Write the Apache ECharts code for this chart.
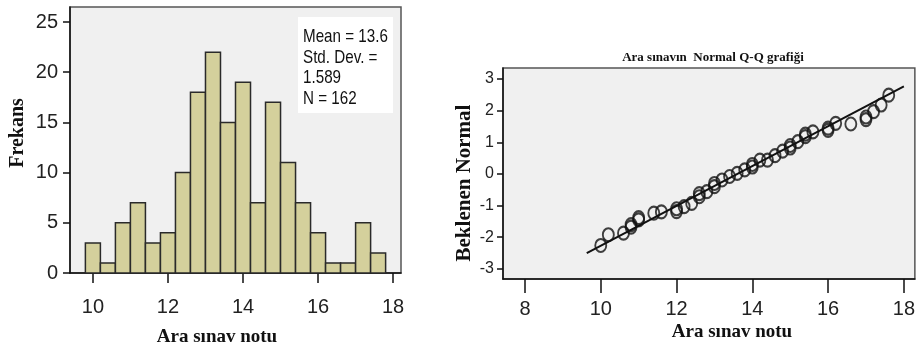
<!DOCTYPE html>
<html><head><meta charset="utf-8">
<script src="https://cdn.jsdelivr.net/npm/echarts@6/dist/echarts.min.js"></script>
<style>html,body{margin:0;padding:0;background:#fff}#c{width:918px;height:349px}</style>
</head><body><div id="c"></div>
<script>
// Histogram data
const binCenters = [10,10.4,10.8,11.2,11.6,12,12.4,12.8,13.2,13.6,14,14.4,14.8,15.2,15.6,16,16.4,16.8,17.2,17.6];
const binCounts  = [3,1,5,7,3,4,10,18,22,15,19,7,17,11,7,4,1,1,5,2];
const binWidth = 0.4;
const histXTicks = [10,12,14,16,18];
const histYTicks = [0,5,10,15,20,25];
const statsLines = ['Mean = 13.6','Std. Dev. =','1.589','N = 162'];

// Q-Q data
const qqX = [10.0,10.2,10.6,10.8,10.8,11.0,11.0,11.4,11.6,12.0,12.0,12.2,12.4,12.6,12.6,12.8,13.0,13.0,13.2,13.4,13.6,13.8,14.0,14.0,14.2,14.4,14.6,14.8,15.0,15.0,15.2,15.4,15.4,15.6,16.0,16.0,16.2,16.6,17.0,17.0,17.2,17.4,17.6];
const qqY = [-2.26,-1.92,-1.87,-1.68,-1.6,-1.45,-1.38,-1.24,-1.2,-1.19,-1.1,-1.03,-0.93,-0.72,-0.62,-0.56,-0.4,-0.3,-0.19,-0.08,0.02,0.13,0.22,0.3,0.44,0.44,0.58,0.72,0.82,0.9,1.02,1.18,1.26,1.33,1.38,1.45,1.6,1.58,1.72,1.8,1.97,2.18,2.49];
const qqLineX = [9.63,18.0];
const qqLineY = [-2.5,2.77];
const qqXTicks = [8,10,12,14,16,18];
const qqYTicks = [-3,-2,-1,0,1,2,3];

const sans = "'Liberation Sans',Arial,sans-serif";
const serif = "'Liberation Serif','DejaVu Serif',serif";

const chart = echarts.init(document.getElementById('c'));
const axisLineBlack = {show:true, onZero:false, lineStyle:{color:'#111', width:1.5}};

chart.setOption({
  animation:false,
  grid:[
    {left:70, top:7, width:331, height:266, show:true, backgroundColor:'#f0f0f0', borderColor:'#555', borderWidth:1.5},
    {left:503, top:68, width:413, height:211, show:true, backgroundColor:'#f0f0f0', borderColor:'#555', borderWidth:1.5}
  ],
  xAxis:[
    {gridIndex:0, type:'value', min:9.39, max:18.21, splitLine:{show:false}, axisLine:axisLineBlack,
     axisTick:{show:true, customValues:histXTicks, length:10, lineStyle:{color:'#111', width:1.5}},
     axisLabel:{customValues:histXTicks, margin:24, fontFamily:sans, fontSize:20, color:'#222'}},
    {gridIndex:1, type:'value', min:7.42, max:18.29, splitLine:{show:false}, axisLine:axisLineBlack,
     axisTick:{show:true, customValues:qqXTicks, length:14, lineStyle:{color:'#111', width:1.5}},
     axisLabel:{customValues:qqXTicks, margin:20, fontFamily:sans, fontSize:20, color:'#222'}}
  ],
  yAxis:[
    {gridIndex:0, type:'value', min:0, max:26.5, splitLine:{show:false}, axisLine:axisLineBlack,
     axisTick:{show:true, customValues:histYTicks, length:7, lineStyle:{color:'#111', width:1.5}},
     axisLabel:{customValues:histYTicks, margin:12, fontFamily:sans, fontSize:20, color:'#222'}},
    {gridIndex:1, type:'value', min:-3.32, max:3.35, splitLine:{show:false}, axisLine:axisLineBlack,
     axisTick:{show:true, customValues:qqYTicks, length:6, lineStyle:{color:'#111', width:1.5}},
     axisLabel:{customValues:qqYTicks, margin:9, fontFamily:sans, fontSize:16, color:'#222'}}
  ],
  series:[
    {type:'custom', xAxisIndex:0, yAxisIndex:0,
     data: binCenters.map((c,i)=>[c, binCounts[i]]),
     renderItem:function(params, api){
       const c = api.value(0), v = api.value(1);
       const p1 = api.coord([c - binWidth/2, v]);
       const p2 = api.coord([c + binWidth/2, 0]);
       return {type:'rect', shape:{x:p1[0], y:p1[1], width:p2[0]-p1[0], height:p2[1]-p1[1]},
               style:{fill:'#d4d09c', stroke:'#2a2a2a', lineWidth:1.5}};
     }},
    {type:'line', xAxisIndex:1, yAxisIndex:1, data: qqLineX.map((x,i)=>[x, qqLineY[i]]),
     symbol:'none', lineStyle:{color:'#111', width:2}},
    {type:'scatter', xAxisIndex:1, yAxisIndex:1, data: qqX.map((x,i)=>[x, qqY[i]]),
     symbol:'circle', symbolSize:[11,13],
     itemStyle:{color:'rgba(0,0,0,0)', borderColor:'#111', borderWidth:2}}
  ],
  graphic:[
    {type:'rect', shape:{x:298, y:17, width:95, height:96}, style:{fill:'#fff'}, z:10},
    ...statsLines.map((t,i)=>({type:'text', x:303, y:37 + i*20.5, z:11, scaleX:0.8,
       style:{text:t, fontFamily:sans, fontSize:19, fill:'#111', textVerticalAlign:'middle'}})),
    {type:'text', x:18, y:133, rotation:Math.PI/2, style:{text:'Frekans', font:"bold 20px "+serif, fill:'#111', textAlign:'center', textVerticalAlign:'middle'}},
    {type:'text', x:217, y:337, style:{text:'Ara sınav notu', font:"bold 19px "+serif, fill:'#111', textAlign:'center', textVerticalAlign:'middle'}},
    {type:'text', x:465, y:183, rotation:Math.PI/2, style:{text:'Beklenen Normal', font:"bold 21px "+serif, fill:'#111', textAlign:'center', textVerticalAlign:'middle'}},
    {type:'text', x:732, y:332, style:{text:'Ara sınav notu', font:"bold 19px "+serif, fill:'#111', textAlign:'center', textVerticalAlign:'middle'}},
    {type:'text', x:713, y:58, style:{text:'Ara sınavın  Normal Q-Q grafiği', font:"bold 13px "+serif, fill:'#111', textAlign:'center', textVerticalAlign:'middle'}}
  ]
});
</script></body></html>
